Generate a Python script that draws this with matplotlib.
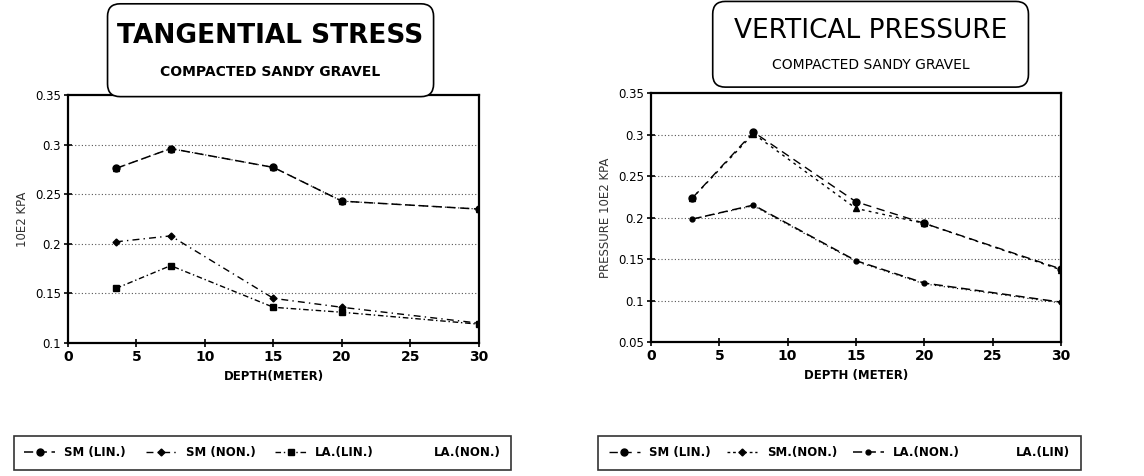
import matplotlib.pyplot as plt
from matplotlib.lines import Line2D
from matplotlib.patches import FancyBboxPatch

# Datos
depth_left = [3.5, 7.5, 15, 20, 30]
depth_right = [3, 7.5, 15, 20, 30]

# Tangential stress (10E2 KPA)
ts_sm_lin = [0.276, 0.296, 0.277, 0.243, 0.235]
ts_sm_non = [0.202, 0.208, 0.145, 0.136, 0.120]
ts_la_lin = [0.155, 0.178, 0.136, 0.131, 0.119]
ts_la_non = [0.276, 0.296, 0.277, 0.243, 0.235]

# Vertical pressure (10E2 KPA)
vp_sm_lin = [0.223, 0.303, 0.219, 0.193, 0.138]
vp_sm_non = [0.223, 0.301, 0.211, 0.193, 0.137]
vp_la_non = [0.198, 0.215, 0.148, 0.121, 0.098]
vp_la_lin = [0.198, 0.214, 0.147, 0.120, 0.097]

x_ticks = [0, 5, 10, 15, 20, 25, 30]

fig = plt.figure(figsize=(11.44, 4.76), dpi=100)
fig.patch.set_facecolor('white')


def style_axes(ax, ymin, yticks, xlabel, ylabel):
    ax.set_xlim(0, 30)
    ax.set_ylim(ymin, 0.35)
    ax.set_xticks(x_ticks)
    ax.set_xticklabels([str(t) for t in x_ticks], fontweight='bold', fontsize=10)
    ax.set_yticks(yticks)
    ax.set_yticklabels([f'{t:g}' for t in yticks], fontsize=8.5)
    for t in yticks[1:-1]:
        ax.axhline(t, color='#555555', lw=0.8, ls=(0, (1, 2)), zorder=0)
    for s in ax.spines.values():
        s.set_linewidth(1.6)
    ax.tick_params(direction='inout', length=6, width=1.2, pad=2)
    ax.set_xlabel(xlabel, fontweight='bold', fontsize=8.5, labelpad=4)
    ax.set_ylabel(ylabel, fontsize=8.5, labelpad=4, color='#333333')


def title_box(x0, y0, w, h, title, sub, bold):
    box = FancyBboxPatch((x0, y0), w, h, transform=fig.transFigure,
                         boxstyle='round,pad=0,rounding_size=0.011',
                         fc='white', ec='black', lw=1.2, mutation_aspect=2.4)
    fig.patches.append(box)
    fig.text(x0 + w / 2, y0 + h * 0.65, title, ha='center', va='center',
             fontsize=19, fontweight='bold' if bold else 'normal')
    fig.text(x0 + w / 2, y0 + h * 0.26, sub, ha='center', va='center',
             fontsize=10, fontweight='bold' if bold else 'normal')


def legend_box(handles, labels, x0, w):
    leg = fig.legend(handles, labels, loc='lower left',
                     bbox_to_anchor=(x0, 0.013, w, 0.067), mode='expand',
                     ncol=4, frameon=True, fancybox=False, fontsize=8.5,
                     handlelength=2.6, borderaxespad=0, borderpad=0.9,
                     columnspacing=1.0)
    leg.get_frame().set_edgecolor('black')
    leg.get_frame().set_linewidth(1.2)
    for t in leg.get_texts():
        t.set_fontweight('bold')


# Grafico izquierdo: tangential stress
ax1 = fig.add_axes([0.0594, 0.2794, 0.3593, 0.521])
l1, = ax1.plot(depth_left, ts_sm_lin, color='black', lw=1.1, ls=(0, (6, 3)),
               marker='o', ms=5)
l2, = ax1.plot(depth_left, ts_sm_non, color='black', lw=1.0, ls=(0, (5, 3, 1, 3)),
               marker='D', ms=3.5)
l3, = ax1.plot(depth_left, ts_la_lin, color='black', lw=1.0, ls=(0, (4, 2, 1, 2)),
               marker='s', ms=4.5)
ax1.plot(depth_left, ts_la_non, color='black', lw=0.8, ls=(0, (1, 3)),
         marker='^', ms=5)
style_axes(ax1, 0.1, [0.1, 0.15, 0.2, 0.25, 0.3, 0.35], 'DEPTH(METER)', '10E2 KPA')
l4 = Line2D([], [], color='none')
legend_box([l1, l2, l3, l4], ['SM (LIN.)', 'SM (NON.)', 'LA.(LIN.)', 'LA.(NON.)'],
           0.012, 0.435)
title_box(0.094, 0.797, 0.285, 0.195, 'TANGENTIAL STRESS', 'COMPACTED SANDY GRAVEL', True)

# Grafico derecho: vertical pressure
ax2 = fig.add_axes([0.569, 0.2815, 0.3584, 0.523])
r1, = ax2.plot(depth_right, vp_sm_lin, color='black', lw=1.0, ls=(0, (6, 4)),
               marker='o', ms=5)
r2, = ax2.plot(depth_right, vp_sm_non, color='black', lw=1.0, ls=(0, (2, 3)),
               marker='^', ms=5)
r3, = ax2.plot(depth_right, vp_la_non, color='black', lw=1.1, ls=(0, (6, 3)),
               marker='o', ms=3.5)
ax2.plot(depth_right, vp_la_lin, color='black', lw=0.8, ls=(0, (1, 3)))
style_axes(ax2, 0.05, [0.05, 0.1, 0.15, 0.2, 0.25, 0.3, 0.35], 'DEPTH (METER)',
           'PRESSURE 10E2 KPA')
r2h = Line2D([], [], color='black', lw=1.0, ls=(0, (2, 2)), marker='D', ms=3.5)
r4 = Line2D([], [], color='none')
legend_box([r1, r2h, r3, r4], ['SM (LIN.)', 'SM.(NON.)', 'LA.(NON.)', 'LA.(LIN)'],
           0.523, 0.422)
title_box(0.623, 0.817, 0.276, 0.18, 'VERTICAL PRESSURE', 'COMPACTED SANDY GRAVEL', False)

plt.savefig('out.png', dpi=100, facecolor='white')
